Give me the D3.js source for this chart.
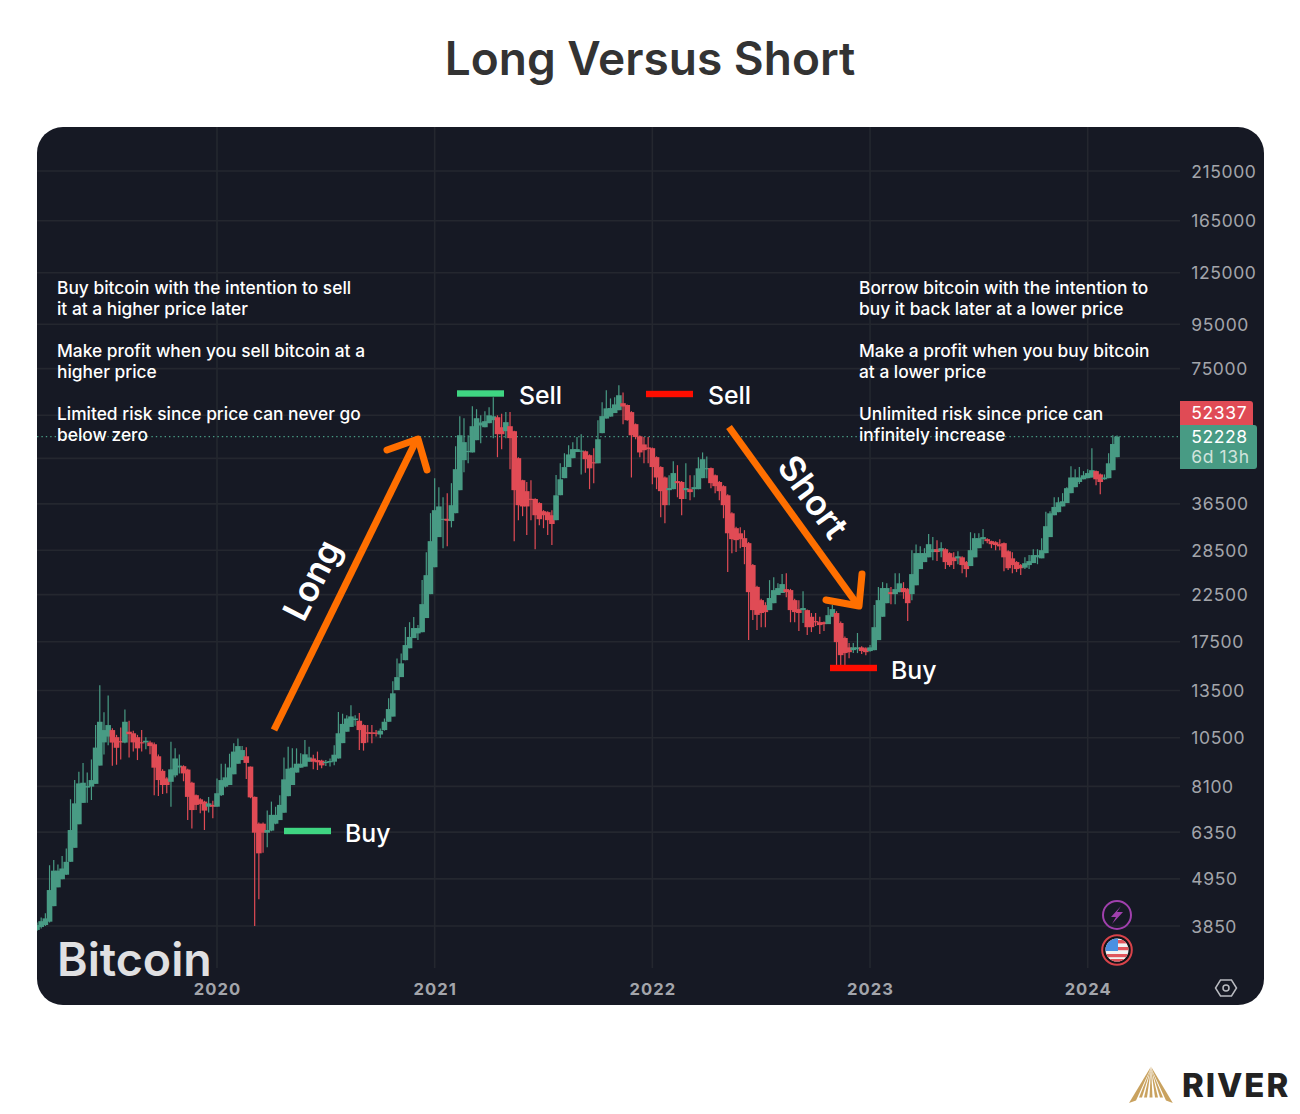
<!DOCTYPE html>
<html><head><meta charset="utf-8">
<style>html,body{margin:0;padding:0;background:#fff}svg{display:block}text{font-family:Inter,sans-serif}</style>
<script src="https://cdnjs.cloudflare.com/ajax/libs/d3/7.8.5/d3.min.js"></script>
</head><body><svg id="c" width="1300" height="1114" viewBox="0 0 1300 1114"></svg>
<script>
const titleText = "Long Versus Short";
const priceTicks = [215000,165000,125000,95000,75000,36500,28500,22500,17500,13500,10500,8100,6350,4950,3850];
const hiddenGridPrices = [58500,46500];
const yearTicks = ["2020-01-06","2021-01-04","2022-01-03","2023-01-02","2024-01-01"];
const lastPrice = 52228, indexPrice = 52337;
const firstWeek = "2019-03-11", afterLastWeek = "2024-02-20";
const longNotes = [["Buy bitcoin with the intention to sell","it at a higher price later"],["Make profit when you sell bitcoin at a","higher price"],["Limited risk since price can never go","below zero"]];
const shortNotes = [["Borrow bitcoin with the intention to","buy it back later at a lower price"],["Make a profit when you buy bitcoin","at a lower price"],["Unlimited risk since price can","infinitely increase"]];
// weekly [open, high, low, close]
const weeks2019 = [[3770,3920,3750,3870],[3830,4030,3800,3950],[3870,4120,3850,4010],[3940,5320,3920,4663],[4280,5470,4280,5170],[4730,5340,4730,5170],[4940,5590,4940,5230],[5060,5820,5060,5420],[5420,7560,5420,6420],[5840,8378,5840,7400],[6620,8760,6620,8230],[7420,9180,7420,8260],[8050,8720,7420,8120],[8090,9350,7530,8378],[8210,11230,8210,9960],[9050,13890,9050,11430],[10240,12030,9600,10935],[10560,13150,10080,11230],[10935,11040,9040,10230],[10530,10660,9090,9950],[10310,11090,9350,10240],[10230,12200,10200,11430],[10840,11490,9450,10700],[10750,10900,9750,10240],[10530,10660,9320,9920],[10250,10935,9750,10200],[10240,10530,9870,10330],[10240,10330,9610,10040],[10140,10230,7730,8950],[9510,9600,7700,8378],[8800,8870,7780,8160],[8450,8500,7810,8160],[8300,10280,7270,8870],[8590,9920,8500,9400],[8960,9600,8680,9050],[9020,9060,8330,8680],[8860,8900,6770,7660],[8260,8300,6470,7140],[7730,7760,7140,7340],[7560,7600,7020,7370],[7470,7500,6420,7120],[7270,7660,7050,7400],[7340,7500,6840,7270]];
const weeks2020 = [[7270,8450,7270,7810],[7730,9140,7700,8378],[8090,9140,8050,8500],[8160,9640,8160,8960],[8640,10200,8640,9750],[9140,10450,9140,10040],[9320,10040,9320,9830],[9510,9980,8420,9180],[9000,9010,7600,7640],[7660,7680,3850,6330],[6640,6680,4440,5670],[6640,6680,5690,6330],[6330,7120,5860,6420],[6400,7470,6380,6960],[6640,7270,6620,6960],[6770,7730,6770,7340],[7040,9450,7040,8410],[7690,10000,7690,8900],[8160,9920,8160,8950],[8720,9920,8720,9140],[8950,9670,8950,9140],[9000,10367,9000,9610],[9240,10000,9240,9450],[9400,9590,8870,9240],[9320,9750,8840,9210],[9290,9330,8920,9060],[9180,9320,9030,9230],[9210,9400,9000,9270],[9240,10080,9060,9590],[9400,12040,9400,10750],[10200,11930,10200,11300],[10840,11840,10840,11630],[11120,12480,11120,11760],[11533,11840,11190,11630],[11490,11980,9830,10935],[11230,11270,9800,10200],[10810,11230,10240,10720],[10800,11230,10200,10720],[10790,10935,10560,10720],[10680,11030,10480,10900],[10935,11630,10900,11430],[11430,12960,11430,12230],[11750,14180,11750,13300],[13530,16020,13530,14500],[14500,16450,14500,15600],[15870,18930,15870,17200],[16910,19430,16910,17960],[17850,19970,17850,18830],[18300,19130,17660,18830],[18420,24310,18420,21390],[19860,28200,19860,24960],[22560,34730,22560,29920]];
const weeks2021 = [[26040,41850,26040,35290],[30570,39890,30570,36000],[33500,37800,28820,33700],[33700,38640,29120,33350],[33300,40750,32200,36240],[34730,49630,34730,43900],[39260,58240,39260,52600],[46060,57600,43200,50700],[48200,52600,45300,48400],[48000,61400,48000,55200],[51240,60440,51240,57600],[55400,58500,50400,56300],[54900,59800,54900,56700],[56100,61060,56100,58500],[57000,64400,51800,58200],[57900,58500,46800,52900],[54900,59000,48840,52900],[53760,59500,51800,56400],[55200,59500,43900,51800],[53750,53900,29920,39260],[46560,46800,33460,36240],[41400,41500,34180,36000],[39050,41000,30900,36000],[37500,41400,33460,37300],[37450,37600,28660,34350],[36650,36800,32560,33630],[35100,35300,32060,34350],[34920,35100,30900,33460],[34350,35290,29300,32780],[33460,42550,33460,38200],[38220,45300,38220,41600],[41850,47800,41850,44400],[44400,49880,44400,47500],[46560,50700,46560,48850],[48100,52100,48100,48850],[48300,52900,42700,48480],[48300,48500,43100,46300],[47300,47500,39470,44100],[45560,49100,40750,45300],[45300,57000,45300,51500],[53200,62700,53200,58240],[57500,66870,57500,60700],[58100,64000,58100,60800],[59200,64400,59200,62000],[60120,68700,60120,65100],[62400,66100,55800,61300],[61800,62000,56800,57000],[59500,59800,42000,52600],[55800,56000,51500,52100],[52300,52500,46800,48000],[50100,52100,45300,48580],[49300,52100,45300,48850]];
const weeks2022 = [[49100,49300,40500,44400],[46800,47000,39470,42000],[44400,44600,34000,39050],[42000,42200,32900,36240],[39260,42500,36240,39700],[39470,45800,39470,43000],[41200,44850,37800,40750],[41000,41200,34350,37450],[39260,45300,37450,39700],[39470,42500,37220,38850],[39470,42500,37800,39900],[39470,46800,39470,44100],[41850,48000,41850,46300],[43900,47000,41850,44150],[44150,44300,39680,40750],[42500,42700,38640,40100],[41000,41200,37220,39050],[40100,40300,33800,36240],[38200,38400,25370,31200],[34700,34900,28070,30240],[32060,32300,28230,30080],[31200,32230,28820,30240],[30400,31725,26460,29000],[29600,29800,17660,22800],[26340,26500,19644,20720],[23450,23600,18625,20200],[21850,22000,18920,20400],[21280,21600,18920,20500],[20720,24310,20720,22100],[21500,24700,21500,23050],[22450,23900,22450,23300],[22700,25100,22700,23800],[23170,25230,22200,22800],[23050,23200,19420,20720],[21850,22000,19420,20500],[20830,21850,18530,20400],[20720,22900,19340,20950],[20720,20800,18140,18920],[20000,20400,18430,18920],[19540,20400,19030,19430],[19430,20000,18250,19130],[19430,19500,18530,19230],[19230,21060,19230,20170],[20000,21280,20000,20830],[20400,20600,15240,17470],[19340,19500,15240,16300],[17860,18000,15450,16480],[16990,17400,16040,16560],[16740,17400,16480,16990],[16820,18340,16480,16990],[16990,17100,16400,16660],[16910,17000,16300,16560]];
const weeks2023 = [[16660,17200,16600,16990],[16740,21280,16740,18920],[17660,23450,17660,21850],[20000,24050,20000,23300],[21500,23900,21500,23300],[22800,23450,21390,22560],[22560,25230,21390,23170],[22800,25230,22800,23900],[23300,24050,22000,22800],[23170,23300,19540,21500],[22560,28520,21850,25100],[23650,29400,23650,28070],[25780,29100,25780,28070],[26760,28820,26760,28070],[27450,31100,27450,29440],[28230,30570,27040,28660],[28660,30080,26900,28230],[28350,29750,27450,28820],[28660,28800,25780,26760],[28070,28200,26100,26340],[27450,28200,25780,26900],[27300,28350,26460,27600],[27450,27600,25230,26340],[26760,26900,24700,25780],[26200,31380,26200,28520],[27450,31200,27450,30400],[28820,31200,28820,30400],[30240,31900,29440,30570],[30240,30400,29600,29920],[29920,30000,28820,29440],[29750,29900,28520,29300],[29440,30240,28520,29100],[29600,29700,25500,27450],[28350,28500,25640,25900],[27300,28200,25230,26340],[26760,26900,25370,25780],[26340,26500,24970,25900],[25980,27450,25800,26600],[26340,27780,25800,26900],[26620,28660,26620,27780],[27450,28660,26460,27780],[27300,30400,27300,28520],[28070,35000,28070,32400],[30570,35100,30570,34700],[34350,37800,34350,35900],[34920,37800,34920,36800],[36000,38640,36000,37000],[36650,39890,36650,39680],[38640,44600,38640,42000],[39890,43900,39890,42000],[41000,44400,40550,42000],[41600,43450,41600,42500]];
const weeks2024 = [[41850,43900,41850,43000],[42000,49100,42000,43670],[43450,43600,40300,41600],[42700,42900,38430,41000],[41600,42700,41500,42000],[41850,47800,41850,45300],[43670,52600,43670,50200],[46800,52500,46800,52228]];

const ohlc = [...weeks2019,...weeks2020,...weeks2021,...weeks2022,...weeks2023,...weeks2024];
const parse = d3.utcParse("%Y-%m-%d");
const dates = d3.utcMonday.range(parse(firstWeek), parse(afterLastWeek));
const candles = ohlc.map((d,i)=>({date:dates[i],o:d[0],h:d[1],l:d[2],c:d[3]}));

const GREEN="#489b84", RED="#e04b55", BG="#161924", GRID="#24272f", ORANGE="#ff6f00";
const x = d3.scaleUtc().domain([parse(yearTicks[0]),parse(yearTicks[4])]).range([217,1087.7]);
const y = d3.scaleLog().domain([3850,215000]).range([926,171]);
const svg = d3.select("#c");
svg.append("defs").append("clipPath").attr("id","panel").append("rect")
  .attr("x",37).attr("y",127).attr("width",1227).attr("height",878).attr("rx",26);
svg.append("text").attr("x",650).attr("y",75).attr("text-anchor","middle").attr("fill","#333")
  .attr("font-size",46).attr("font-weight",600).text(titleText);
svg.append("rect").attr("x",37).attr("y",127).attr("width",1227).attr("height",878).attr("rx",26).attr("fill",BG);
const g = svg.append("g").attr("clip-path","url(#panel)");

// grid
g.selectAll("line.h").data([...priceTicks,...hiddenGridPrices]).join("line").attr("class","h")
  .attr("x1",37).attr("x2",1180).attr("y1",d=>y(d)).attr("y2",d=>y(d)).attr("stroke",GRID).attr("stroke-width",1.6);
g.selectAll("line.v").data(yearTicks.map(parse)).join("line").attr("class","v")
  .attr("x1",d=>x(d)).attr("x2",d=>x(d)).attr("y1",127).attr("y2",968).attr("stroke",GRID).attr("stroke-width",1.6);

// last price line
g.append("line").attr("x1",37).attr("x2",1180).attr("y1",y(lastPrice)).attr("y2",y(lastPrice))
  .attr("stroke",GREEN).attr("stroke-width",1.4).attr("stroke-dasharray","1.4 3");

// candles
const bw = 5.6;
const col = d=>d.c>=d.o?GREEN:RED;
g.selectAll("line.w").data(candles).join("line").attr("class","w")
  .attr("x1",d=>x(d.date)).attr("x2",d=>x(d.date)).attr("y1",d=>y(d.h)).attr("y2",d=>y(d.l))
  .attr("stroke",col).attr("stroke-width",1.2);
g.selectAll("rect.b").data(candles).join("rect").attr("class","b")
  .attr("x",d=>x(d.date)-bw/2).attr("width",bw)
  .attr("y",d=>y(Math.max(d.o,d.c))).attr("height",d=>Math.max(1.2,Math.abs(y(d.o)-y(d.c))))
  .attr("fill",col);

// axes
const yAxis = d3.axisRight(y).tickValues(priceTicks).tickFormat(d3.format("d")).tickSize(0).tickPadding(0);
const ya = svg.append("g").attr("transform","translate(1191.3,0)").call(yAxis);
ya.select(".domain").remove();
ya.selectAll("text").attr("fill","#a3a5ab").attr("font-size",17.5).attr("letter-spacing",0.6).attr("font-family","Inter").attr("dy","0.35em");
const xAxis = d3.axisBottom(x).tickValues(yearTicks.map(parse)).tickFormat(d3.utcFormat("%Y")).tickSize(0).tickPadding(0);
const xa = svg.append("g").attr("transform","translate(0,989.6)").call(xAxis);
xa.select(".domain").remove();
xa.selectAll("text").attr("fill","#a3a5ab").attr("font-size",16.6).attr("font-weight",700).attr("letter-spacing",1).attr("font-family","Inter").attr("dy","0.35em");

// price tags
svg.append("path").attr("d","M1180,401H1250a3,3 0 0 1 3,3V426H1180Z").attr("fill",RED);
svg.append("path").attr("d","M1180,425H1254a3,3 0 0 1 3,3V466a3,3 0 0 1 -3,3H1180Z").attr("fill",GREEN);
const tagStyle = s=>s.attr("font-size",17.5).attr("letter-spacing",0.6);
svg.append("text").attr("x",1191.3).attr("y",419).attr("fill","#fff").call(tagStyle).text(indexPrice);
svg.append("text").attr("x",1191.3).attr("y",443).attr("fill","#fff").call(tagStyle).text(lastPrice);
svg.append("text").attr("x",1191.3).attr("y",463).attr("fill","#cfe3dc").call(tagStyle).text("6d 13h");

// watermark
svg.append("text").attr("x",57).attr("y",976).attr("fill","#e0e0e2").attr("font-size",46.5).attr("font-weight",600).text("Bitcoin");

// notes
function notes(list,xp){
  list.forEach((para,i)=>para.forEach((line,j)=>{
    svg.append("text").attr("x",xp).attr("y",294+i*63+j*21.3).attr("fill","#fff").attr("font-size",17.35).attr("font-weight",500).text(line);
  }));
}
notes(longNotes,57); notes(shortNotes,859);

// trade markers
const marks=[[284,831,"#3fd582","Buy",345,842],[457,393.5,"#3fd582","Sell",519,404],[646,394,"#ff0d00","Sell",708,404],[830,668,"#ff0d00","Buy",891,679]];
marks.forEach(m=>{
  svg.append("rect").attr("x",m[0]).attr("y",m[1]-3.2).attr("width",47).attr("height",6.4).attr("fill",m[2]);
  svg.append("text").attr("x",m[4]).attr("y",m[5]).attr("fill","#fff").attr("font-size",24.8).attr("font-weight",500).text(m[3]);
});

// arrows
const line=d3.line();
const arrow=(pts,cap)=>svg.append("path").attr("d",line(pts)).attr("fill","none").attr("stroke",ORANGE).attr("stroke-width",7).attr("stroke-linecap",cap).attr("stroke-linejoin","round");
arrow([[274,730],[416,441]],"butt");
arrow([[387,450],[418,439],[427,470]],"round");
arrow([[729,427],[857,604]],"butt");
arrow([[826,600],[859,606],[862,574]],"round");
svg.append("text").attr("transform","translate(312,580) rotate(-63)").attr("text-anchor","middle").attr("dy","0.35em").attr("fill","#fff").attr("font-size",35).attr("font-weight",600).text("Long");
svg.append("text").attr("transform","translate(813,497) rotate(54)").attr("text-anchor","middle").attr("dy","0.35em").attr("fill","#fff").attr("font-size",35).attr("font-weight",600).text("Short");

// event icons
svg.append("circle").attr("cx",1117).attr("cy",915).attr("r",14).attr("fill","none").attr("stroke","#a040ad").attr("stroke-width",2);
svg.append("path").attr("d","M1121,906L1111,917H1116L1112,924L1123,912H1117Z").attr("fill","#a040ad");
const flag=svg.append("g");
flag.append("clipPath").attr("id","fl").append("circle").attr("cx",1117).attr("cy",950).attr("r",11.5);
flag.append("circle").attr("cx",1117).attr("cy",950).attr("r",14.8).attr("fill","#131419").attr("stroke","#d9434a").attr("stroke-width",2);
const fl=flag.append("g").attr("clip-path","url(#fl)");
fl.append("rect").attr("x",1105).attr("y",938).attr("width",24).attr("height",24).attr("fill","#f2f2f2");
[[940,3.4],[947,3.2],[954,3.2],[959,3]].forEach(r=>fl.append("rect").attr("x",1105).attr("y",r[0]).attr("width",24).attr("height",r[1]).attr("fill","#e0555c"));
fl.append("rect").attr("x",1105).attr("y",938).attr("width",13).attr("height",13).attr("fill","#4a90e2");

// settings hexagon
svg.append("path").attr("d","M1220.5,980H1231.5L1236.5,988L1231.5,996H1220.5L1215.5,988Z").attr("fill","none").attr("stroke","#b9bbc0").attr("stroke-width",1.5);
svg.append("circle").attr("cx",1226).attr("cy",988).attr("r",3).attr("fill","none").attr("stroke","#b9bbc0").attr("stroke-width",1.5);

// logo
const logo=svg.append("g").attr("fill","#c9a25f");
logo.append("path").attr("d","M1151,1066.5L1129,1103L1136,1100.5L1149,1072Z");
logo.append("path").attr("d","M1151,1066.5L1172.8,1103L1166,1100.5L1153,1072Z");
[1140.5,1145.5,1151,1156.5,1161.5].forEach(b=>{
  logo.append("path").attr("d",`M1151,1068L${b-1.5},1097.5L${b+1.5},1097.5Z`);
});
svg.append("text").attr("x",1182).attr("y",1097).attr("fill","#222").attr("font-size",33).attr("font-weight",800).attr("letter-spacing",1.9).text("RIVER");
</script></body></html>
